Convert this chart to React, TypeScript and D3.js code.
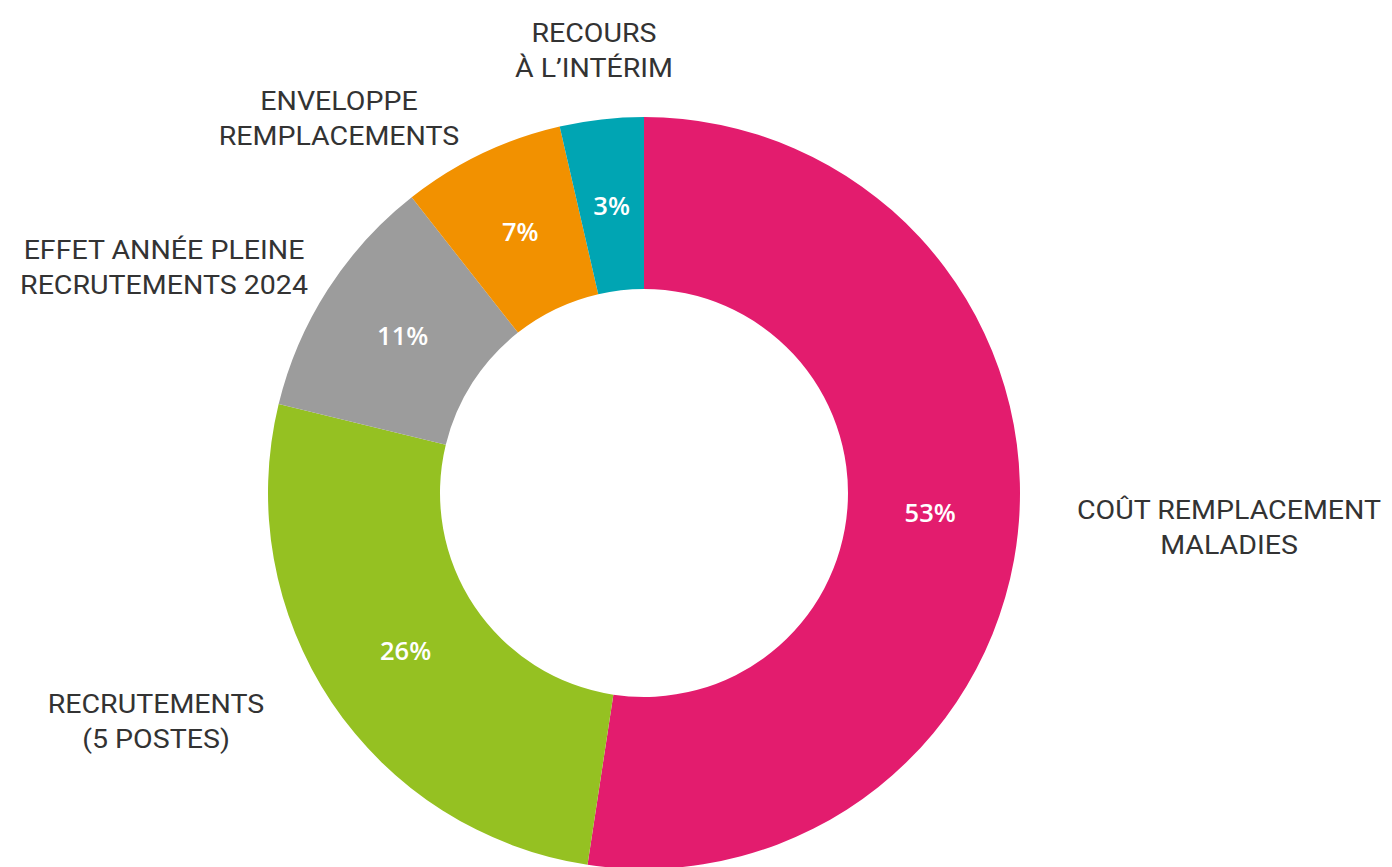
import React from "react";
import * as d3 from "d3";

const categories = [
  "COÛT REMPLACEMENT MALADIES",
  "RECRUTEMENTS (5 POSTES)",
  "EFFET ANNÉE PLEINE RECRUTEMENTS 2024",
  "ENVELOPPE REMPLACEMENTS",
  "RECOURS À L’INTÉRIM",
];
const values = [52.4, 26.4, 10.6, 7.0, 3.6];
const percentLabels = ["53%", "26%", "11%", "7%", "3%"];
const labelLines = [
  ["COÛT REMPLACEMENT", "MALADIES"],
  ["RECRUTEMENTS", "(5 POSTES)"],
  ["EFFET ANNÉE PLEINE", "RECRUTEMENTS 2024"],
  ["ENVELOPPE", "REMPLACEMENTS"],
  ["RECOURS", "À L’INTÉRIM"],
];
const colors = ["#E31C6E", "#95C122", "#9C9C9C", "#F29100", "#00A5B3"];

// layout (label anchor centres, first line baseline)
const labelPos: [number, number][] = [
  [1229, 519],
  [156, 713],
  [164, 259],
  [339, 110],
  [594, 42],
];

const W = 1392;
const H = 867;
const cx = 644;
const cy = 493;
const outerR = 376;
const innerR = 204;

export default function App() {
  const pie = d3
    .pie<number>()
    .sort(null)
    .value((d) => d)
    .startAngle(0)
    .endAngle(2 * Math.PI);
  const arcs = pie(values);
  const arc = d3.arc<d3.PieArcDatum<number>>().innerRadius(innerR).outerRadius(outerR);
  const labelArc = d3
    .arc<d3.PieArcDatum<number>>()
    .innerRadius(282)
    .outerRadius(292);

  return (
    <svg
      width={W}
      height={H}
      style={{ position: "absolute", left: 0, top: 0, background: "#fff" }}
    >
      <g transform={`translate(${cx},${cy})`}>
        {arcs.map((a, i) => (
          <path key={categories[i]} d={arc(a) || ""} fill={colors[i]} />
        ))}
        {arcs.map((a, i) => {
          const [x, y] = labelArc.centroid(a);
          return (
            <text
              key={"p" + i}
              x={x}
              y={y - 3}
              textAnchor="middle"
              dominantBaseline="central"
              fill="#fff"
              fontFamily="'Open Sans', sans-serif"
              fontWeight={600}
              fontSize={25.5}
            >
              {percentLabels[i]}
            </text>
          );
        })}
      </g>
      {labelLines.map((lines, i) => (
        <g
          key={"l" + i}
          transform={`translate(${labelPos[i][0]},0) scale(1.12,1)`}
        >
          <text
            textAnchor="middle"
            fill="#333"
            fontFamily="Roboto, sans-serif"
            fontSize={25.5}
          >
            {lines.map((ln, j) => (
              <tspan key={j} x={0} y={labelPos[i][1] + j * 35}>
                {ln}
              </tspan>
            ))}
          </text>
        </g>
      ))}
    </svg>
  );
}
